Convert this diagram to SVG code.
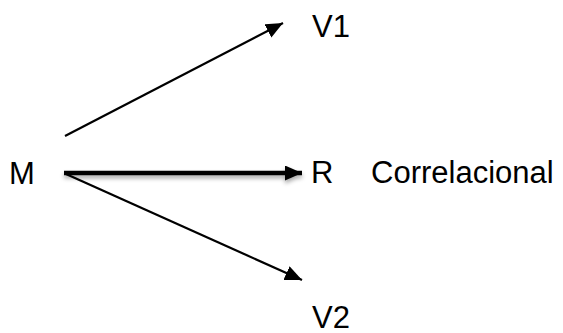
<svg xmlns="http://www.w3.org/2000/svg" width="563" height="333" viewBox="0 0 563 333">
  <style>
    .lbl { font-family: "Liberation Sans", Arial, sans-serif; font-size: 31px; fill: #000; }
    .conn { stroke: #000; fill: none; }
  </style>
  <defs>
    <marker id="ah" markerUnits="userSpaceOnUse" markerWidth="18" markerHeight="16" refX="17" refY="7.5" orient="auto">
      <path d="M0,0 L17,7.5 L0,15 z" fill="#000"/>
    </marker>
    <filter id="sh" filterUnits="userSpaceOnUse" x="50" y="155" width="270" height="40">
      <feDropShadow dx="0" dy="3" stdDeviation="2" flood-color="#000" flood-opacity="0.35"/>
    </filter>
  </defs>
  <rect width="563" height="333" fill="#fff"/>
  <g id="connectors">
    <line class="conn" x1="65" y1="136" x2="283" y2="23" stroke-width="2.2" marker-end="url(#ah)"/>
    <line class="conn" x1="64" y1="173" x2="302" y2="173" stroke-width="4.5" marker-end="url(#ah)" filter="url(#sh)"/>
    <line class="conn" x1="66" y1="174" x2="302" y2="280" stroke-width="2.2" marker-end="url(#ah)"/>
  </g>
  <g id="M"><text class="lbl" x="9" y="184">M</text></g>
  <g id="V1"><text class="lbl" x="312" y="37">V1</text></g>
  <g id="R"><text class="lbl" x="311" y="183">R</text></g>
  <g id="Correlacional"><text class="lbl" x="371" y="183">Correlacional</text></g>
  <g id="V2"><text class="lbl" x="312" y="328">V2</text></g>
</svg>
